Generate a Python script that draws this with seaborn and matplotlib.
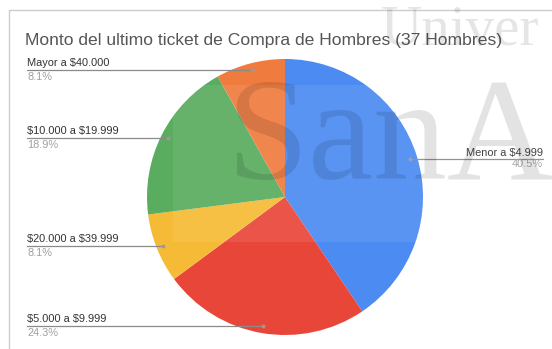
import numpy as np
import pandas as pd
import matplotlib
matplotlib.use("Agg")
import matplotlib.pyplot as plt
import seaborn as sns
from matplotlib.patches import Rectangle

# ---- data ----
categories = ["Menor a $4.999", "$5.000 a $9.999", "$20.000 a $39.999",
              "$10.000 a $19.999", "Mayor a $40.000"]
counts = [15, 9, 3, 7, 3]
colors = ["#4b8bf2", "#e9463a", "#f6bb36", "#5aac5f", "#ef7b3e"]
title = "Monto del ultimo ticket de Compra de Hombres (37 Hombres)"

sns.set_theme(style="white")
plt.rcParams["font.family"] = ["Liberation Sans", "DejaVu Sans"]
plt.rcParams["text.parse_math"] = False

W, H = 552, 349
fig = plt.figure(figsize=(W / 100, H / 100), dpi=100)
fig.patch.set_facecolor("white")
ax = fig.add_axes([0, 0, 1, 1])


def Y(y):
    return H - y


cx, cy, R = 285, Y(197), 138
df = pd.DataFrame({"cat": categories, "n": counts})
wedges, _ = ax.pie(df["n"], colors=colors, startangle=90, counterclock=False,
                   center=(cx, cy), radius=R,
                   wedgeprops=dict(linewidth=0))
ax.set_xlim(0, W)
ax.set_ylim(0, H)
ax.set_aspect("auto")
ax.axis("off")

total = sum(counts)
for w, cat, n in zip(wedges, categories, counts):
    th = np.deg2rad((w.theta1 + w.theta2) / 2)
    dx, dy = cx + 0.95 * R * np.cos(th), cy + 0.95 * R * np.sin(th)
    pct = f"{100 * n / total:.1f}%"
    if np.cos(th) < 0:
        x0 = 27
        ax.plot([x0, dx], [dy, dy], color="#8a8a8a", lw=0.9, zorder=3)
        ax.text(x0, dy + 7, cat, ha="left", va="center", fontsize=7.9, color="#333333")
        ax.text(x0, dy - 7, pct, ha="left", va="center", fontsize=7.9, color="#a0a0a0")
    else:
        x0 = 543
        ax.plot([dx, x0], [dy, dy], color="#8a8a8a", lw=0.9, zorder=3)
        ax.text(x0, dy + 6, cat, ha="right", va="center", fontsize=7.9, color="#333333")
        ax.text(x0, dy - 5, pct, ha="right", va="center", fontsize=7.9, color="#a0a0a0")
    ax.plot([dx], [dy], "o", ms=1.8, color="#9a9a9a", zorder=4)

ax.text(25, Y(40), title, ha="left", va="center", fontsize=12.6, color="#555555")

# frame
ax.plot([9, 9], [Y(10), 0], color="#cccccc", lw=1)
ax.plot([9, W], [Y(10), Y(10)], color="#cccccc", lw=1)

# watermark
ax.add_patch(Rectangle((173, Y(242)), W - 173, 242 - 85, facecolor="white",
                       alpha=0.08, lw=0, zorder=5))
ax.text(381, Y(45), "Univer", ha="left", va="baseline", fontsize=41,
        family="Liberation Serif", color="#000000", alpha=0.1, zorder=6)
ax.text(226, Y(179), "SanA", ha="left", va="baseline", fontsize=106,
        family="Liberation Serif", color="#000000", alpha=0.11, zorder=6)

fig.savefig("out.png", dpi=100)
